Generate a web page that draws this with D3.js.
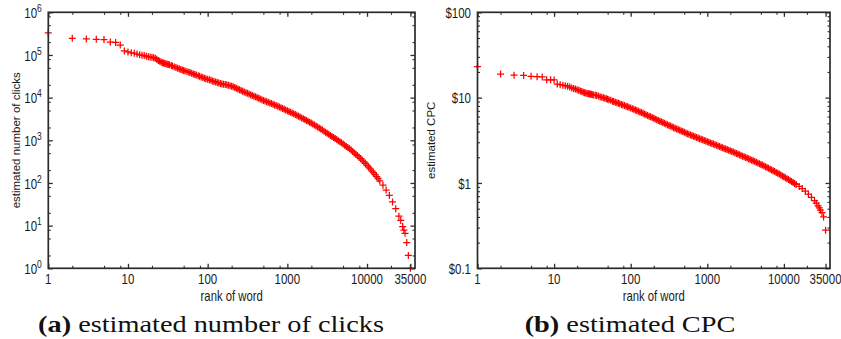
<!DOCTYPE html>
<html>
<head>
<meta charset="utf-8">
<script src="https://cdn.jsdelivr.net/npm/d3@7/dist/d3.min.js"></script>
<style>
  body { margin: 0; background: #fff; }
  svg { display: block; }
  .lbl { font-family: "Liberation Sans", Arial, Helvetica, sans-serif; fill: #1a1a1a; }
  .cap { font-family: "Liberation Serif", "Times New Roman", serif; fill: #111; }
</style>
</head>
<body>
<svg id="fig" width="841" height="339"></svg>
<script>
// Word rank (shared x values of both panels)
const ranks = [1,2,3,4,5,6,7,8,9,10,11,12,13,14,15,16,17,18,19,20,21,22,23,24,25,26,27,
  28,29,30,31,32,33,35,36,38,40,42,44,46,48,50,52,55,58,60,63,66,69,72,76,79,83,87,91,95,
  100,105,110,115,120,126,132,138,145,151,158,166,174,182,191,200,209,219,229,240,
  251,263,275,288,302,316,331,347,363,380,398,417,437,457,479,501,525,550,575,603,
  631,661,692,724,759,794,832,871,912,955,
  1000,1047,1096,1148,1202,1259,1318,1380,1445,1514,1585,1660,1738,1820,1905,1995,2089,2188,2291,2399,
  2512,2630,2754,2884,3020,3162,3311,3467,3631,3802,3981,4169,4365,4571,4786,5012,5248,5495,5754,6026,
  6310,6607,6918,7244,7586,7943,8318,8710,9120,9550,
  10000,10470,10965,11482,12023,12589,13183,13804,14454,
  15849,17378,19055,20893,22909,25119,
  26500,28000,29000,30000,31500,33000,35000];

// (a) estimated number of clicks per word
const clicks = [331000,245000,237000,232000,229000,200000,197000,171000,124000,117500,
  112000,110000,105000,101000,98900,96600,93300,91200,89100,88100,
  86100,84100,79400,74100,70800,68400,66100,
  64600,63300,62100,61000,59800,58600,56300,55000,52600,50700,49000,47300,45900,44700,43400,42300,
  40800,39400,38600,37200,36000,34700,33800,32400,31600,30500,29500,28500,27700,
  26900,26100,25400,24700,24000,23300,22600,22000,21400,21000,20700,20300,20000,19600,19100,18600,
  18000,17300,16600,15900,15300,14700,14100,13500,13000,12600,12200,11700,11200,10800,10500,10100,
  9660,9280,8910,8600,8320,8030,7760,7490,7240,6990,6760,6530,6310,6060,5820,5590,5370,5130,
  4900,4710,4520,4340,4170,4010,3850,3680,3510,3350,3200,3060,2920,2790,2660,2530,2400,2280,2160,2050,
  1950,1840,1740,1640,1550,1460,1380,1300,1230,1160,1100,1040,977,922,871,818,767,720,676,631,
  589,547,507,471,437,403,372,341,313,286,
  260,236,214,193,174,157,141,126,112,
  89,68,51,36,25,16.6,
  13.2,9.5,7.9,6.6,4,2,1];

// (b) estimated cost per click, dollars
const cpc = [23.1,18.9,18.3,18.2,17.8,17.6,17.5,16.2,16.2,16.1,
  14.4,14.2,14.0,13.8,13.6,13.3,13.0,12.8,12.6,12.4,
  12.2,12.0,11.8,11.6,11.4,11.3,11.2,
  11.1,11.0,11.0,10.9,10.8,10.75,10.65,10.6,10.45,10.2,10.1,10.0,9.85,9.7,9.6,9.45,
  9.3,9.1,9.0,8.8,8.7,8.6,8.45,8.3,8.2,8.1,7.95,7.8,7.7,
  7.55,7.42,7.3,7.18,7.05,6.92,6.8,6.68,6.55,6.42,6.3,6.17,6.05,5.95,5.85,5.72,
  5.6,5.5,5.4,5.3,5.2,5.1,5.0,4.9,4.8,4.72,4.65,4.55,4.45,4.37,4.3,4.22,
  4.15,4.07,4.0,3.92,3.85,3.78,3.72,3.66,3.6,3.53,3.47,3.41,3.36,3.3,3.25,3.2,3.15,3.1,
  3.05,3.0,2.95,2.9,2.86,2.81,2.77,2.72,2.68,2.63,2.59,2.54,2.50,2.46,2.42,2.38,2.34,2.30,2.26,2.22,
  2.18,2.14,2.10,2.06,2.03,1.99,1.96,1.92,1.89,1.85,1.82,1.78,1.75,1.71,1.68,1.65,1.62,1.58,1.55,1.52,
  1.49,1.45,1.42,1.39,1.36,1.33,1.30,1.27,1.24,1.21,
  1.18,1.15,1.12,1.095,1.07,1.04,1.01,0.985,0.96,
  0.91,0.86,0.80,0.74,0.68,0.62,
  0.58,0.54,0.51,0.48,0.45,0.40,0.28];

// Axis ticks and labels
const rankTicks = [1, 10, 100, 1000, 10000, 35000];
const rankTickLabels = ["1", "10", "100", "1000", "10000", "35000"];
const rankMinorSteps = [2, 5, 8];
const clickTicks = [1, 10, 100, 1000, 10000, 100000, 1000000];
const clickTickExponents = ["0", "1", "2", "3", "4", "5", "6"];
const clickMinorSteps = [2, 5, 8];
const cpcTicks = [0.1, 1, 10, 100];
const cpcTickLabels = ["$0.1", "$1", "$10", "$100"];
const cpcMinorSteps = [2, 3, 4, 5, 6, 7, 8, 9];

const xTitle = "rank of word";
const yTitles = ["estimated number of clicks", "estimated CPC"];
const captionTags = ["(a)", "(b)"];
const captionTexts = ["estimated number of clicks", "estimated CPC"];

const svg = d3.select("#fig");
const TEXT_SY = 1.22;   // tall, narrow sans lettering of the axes

function minorValues(domain, steps) {
  const out = [];
  const lo = Math.floor(Math.log10(domain[0])), hi = Math.ceil(Math.log10(domain[1]));
  for (let e = lo; e <= hi; e++) {
    for (const s of steps) {
      const v = s * Math.pow(10, e);
      if (v > domain[0] && v < domain[1]) out.push(v);
    }
  }
  return out;
}

function drawPanel(p) {
  const g = svg.append("g");
  const x = d3.scaleLog().domain([1, 40000]).range([p.left, p.right]);
  const y = d3.scaleLog().domain(p.yDomain).range([p.bottom, p.top]);

  // data markers
  g.append("g").selectAll("path")
    .data(ranks.map((r, i) => [r, p.values[i]]))
    .join("path")
    .attr("transform", d => `translate(${x(d[0])},${y(d[1])})`)
    .attr("d", "M-3.5,0H3.5M0,-3.5V3.5")
    .attr("fill", "none")
    .attr("stroke", "#ff0000")
    .attr("stroke-width", 1.25);

  // inward ticks on all four sides
  const xMinor = minorValues(x.domain(), rankMinorSteps);
  const yMinor = minorValues(y.domain(), p.yMinorSteps);
  const tickGroups = [
    [d3.axisBottom(x), `translate(0,${p.bottom})`, rankTicks, xMinor],
    [d3.axisTop(x), `translate(0,${p.top})`, rankTicks, xMinor],
    [d3.axisLeft(y), `translate(${p.left},0)`, p.yTicks, yMinor],
    [d3.axisRight(y), `translate(${p.right},0)`, p.yTicks, yMinor]
  ];
  for (const [axis, tr, major, minor] of tickGroups) {
    for (const [vals, len, w] of [[major, 4.5, 1.3], [minor, 2.5, 1.1]]) {
      const a = g.append("g").attr("transform", tr)
        .call(axis.tickValues(vals).tickSize(-len).tickSizeOuter(0).tickFormat(""));
      a.select(".domain").remove();
      a.selectAll("line").attr("stroke", "#2e2e2e").attr("stroke-width", w);
    }
  }

  // frame
  g.append("rect")
    .attr("x", p.left).attr("y", p.top)
    .attr("width", p.right - p.left).attr("height", p.bottom - p.top)
    .attr("fill", "none").attr("stroke", "#2b2b2b").attr("stroke-width", 1.7);

  // x tick labels
  rankTicks.forEach((t, i) => {
    g.append("text").attr("class", "lbl")
      .attr("transform", `translate(${x(t)},${p.bottom + 16}) scale(1,${TEXT_SY})`)
      .attr("text-anchor", "middle").attr("font-size", 11.5)
      .text(rankTickLabels[i]);
  });

  // y tick labels
  p.yTicks.forEach((t, i) => {
    const txt = g.append("text").attr("class", "lbl")
      .attr("transform", `translate(${p.left - 6.5},${y(t) + 5.8}) scale(1,${TEXT_SY})`)
      .attr("text-anchor", "end").attr("font-size", 11.5);
    p.yLabel(txt, i);
  });

  // axis titles
  g.append("text").attr("class", "lbl")
    .attr("transform", `translate(${(p.left + p.right) / 2},${p.bottom + 33}) scale(1,${TEXT_SY})`)
    .attr("text-anchor", "middle").attr("font-size", 11.3)
    .text(xTitle);
  g.append("text").attr("class", "lbl")
    .attr("transform", `translate(${p.yTitleX},${(p.top + p.bottom) / 2}) rotate(-90)`)
    .attr("text-anchor", "middle").attr("font-size", 11.5)
    .text(p.yTitle);

  // sub-figure caption
  const cap = g.append("text").attr("class", "cap")
    .attr("transform", `translate(${p.captionX},331.5) scale(1.18,1)`)
    .attr("text-anchor", "middle").attr("font-size", 24);
  cap.append("tspan").attr("font-weight", "bold").text(p.captionTag);
  cap.append("tspan").text(" " + p.captionText);
}

drawPanel({
  left: 48.3, right: 415, top: 12.3, bottom: 268.3,
  yDomain: [1, 1e6], yTicks: clickTicks, yMinorSteps: clickMinorSteps,
  values: clicks,
  yLabel: (txt, i) => {
    txt.append("tspan").text("10");
    txt.append("tspan").attr("dy", -5).attr("font-size", 8.5).text(clickTickExponents[i]);
  },
  yTitle: yTitles[0], yTitleX: 20,
  captionTag: captionTags[0], captionText: captionTexts[0], captionX: 211
});

drawPanel({
  left: 477.5, right: 830, top: 12.3, bottom: 268.3,
  yDomain: [0.1, 100], yTicks: cpcTicks, yMinorSteps: cpcMinorSteps,
  values: cpc,
  yLabel: (txt, i) => { txt.text(cpcTickLabels[i]); },
  yTitle: yTitles[1], yTitleX: 435,
  captionTag: captionTags[1], captionText: captionTexts[1], captionX: 630
});
</script>
</body>
</html>
